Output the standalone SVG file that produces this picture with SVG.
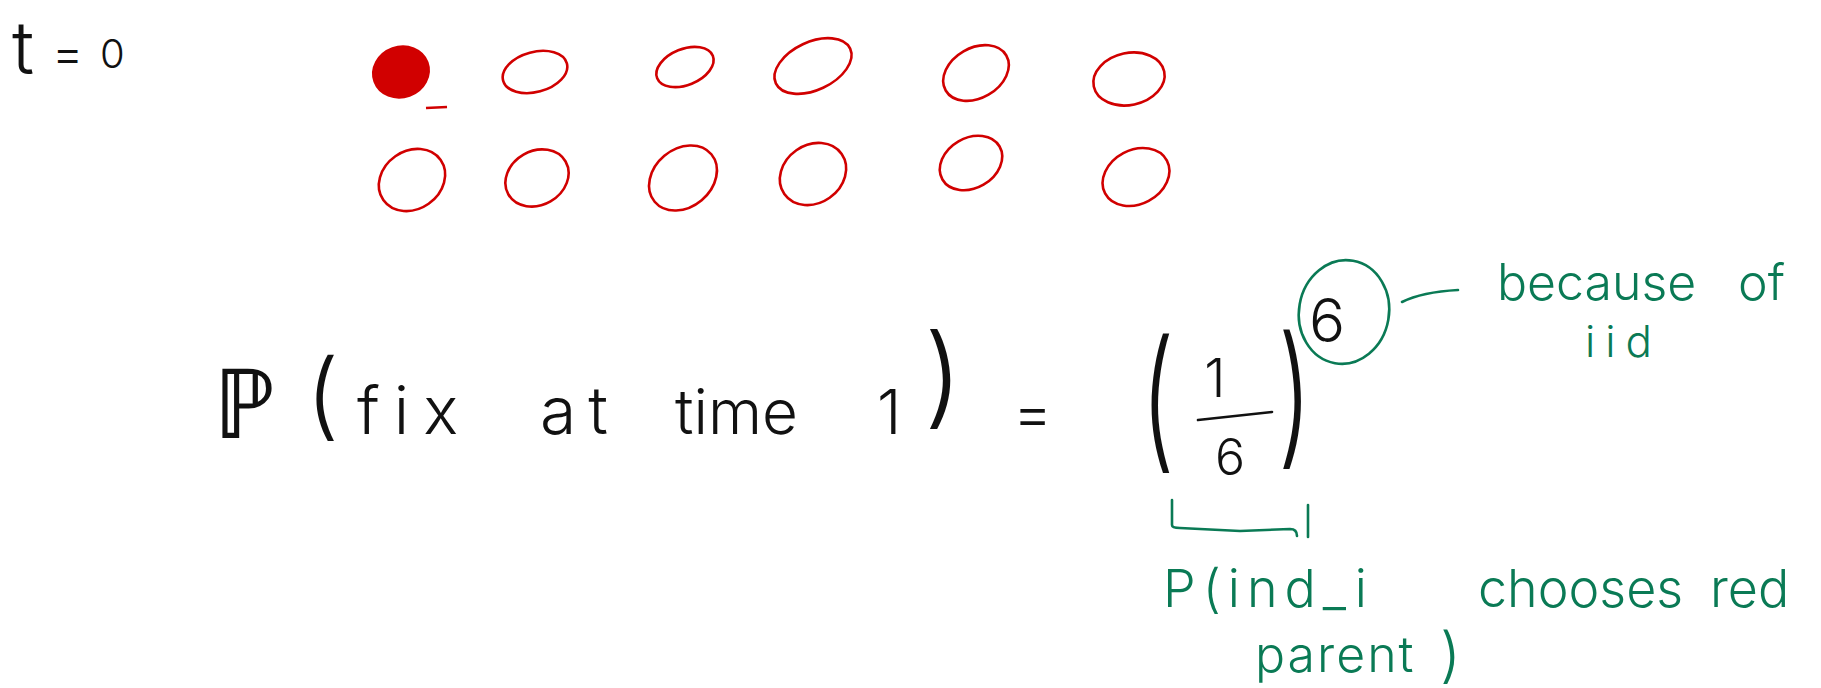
<svg xmlns="http://www.w3.org/2000/svg" width="1821" height="688" viewBox="0 0 1821 688">
<style>
  .ink { font-family: Inter, "Liberation Sans", sans-serif; font-weight: 300; fill: #111; }
  .green { font-family: Inter, "Liberation Sans", sans-serif; font-weight: 300; fill: #0a7a55; }
  .dot { fill: none; stroke: #d10000; stroke-width: 2.6; }
  .dotfill { fill: #d10000; stroke: #d10000; stroke-width: 2.6; }
  .gline { fill: none; stroke: #0a7a55; stroke-width: 2.6; stroke-linecap: round; stroke-linejoin: round; }
  .kline { fill: none; stroke: #111; stroke-width: 2.6; stroke-linecap: round; }
</style>
<rect width="1821" height="688" fill="#ffffff"/>

<g id="label-t0">
  <text class="ink" y="74"><tspan x="12" font-size="74">t</tspan><tspan x="52" font-size="48" dy="-4">=</tspan><tspan x="100" font-size="40" dy="-2">0</tspan></text>
</g>

<g id="node-r1c1"><ellipse class="dotfill" cx="401" cy="72" rx="28" ry="25" transform="rotate(-20 401 72)"/><line class="dot" x1="426" y1="108" x2="447" y2="107"/></g>
<g id="node-r1c2"><ellipse class="dot" cx="535" cy="72" rx="33" ry="20" transform="rotate(-15 535 72)"/></g>
<g id="node-r1c3"><ellipse class="dot" cx="685" cy="67" rx="30" ry="18" transform="rotate(-22 685 67)"/></g>
<g id="node-r1c4"><ellipse class="dot" cx="813" cy="66" rx="41" ry="24" transform="rotate(-25 813 66)"/></g>
<g id="node-r1c5"><ellipse class="dot" cx="976" cy="73" rx="35" ry="25" transform="rotate(-30 976 73)"/></g>
<g id="node-r1c6"><ellipse class="dot" cx="1129" cy="79" rx="36" ry="26" transform="rotate(-12 1129 79)"/></g>

<g id="node-r2c1"><ellipse class="dot" cx="412" cy="180" rx="35" ry="29" transform="rotate(-35 412 180)"/></g>
<g id="node-r2c2"><ellipse class="dot" cx="537" cy="178" rx="33" ry="27" transform="rotate(-30 537 178)"/></g>
<g id="node-r2c3"><ellipse class="dot" cx="683" cy="178" rx="37" ry="29" transform="rotate(-40 683 178)"/></g>
<g id="node-r2c4"><ellipse class="dot" cx="813" cy="174" rx="35" ry="29" transform="rotate(-35 813 174)"/></g>
<g id="node-r2c5"><ellipse class="dot" cx="971" cy="163" rx="33" ry="25" transform="rotate(-30 971 163)"/></g>
<g id="node-r2c6"><ellipse class="dot" cx="1136" cy="177" rx="35" ry="27" transform="rotate(-28 1136 177)"/></g>

<g id="formula">
  <text class="ink" x="213" y="438" font-size="97" font-family="'DejaVu Sans', sans-serif">ℙ</text>
  <text class="ink" x="306" y="428" font-size="95">(</text>
  <text class="ink" y="434" font-size="66"><tspan x="357" letter-spacing="14">fix</tspan><tspan x="540" letter-spacing="12">at</tspan><tspan x="675" font-size="62">time</tspan><tspan x="877" font-size="62">1</tspan></text>
  <text class="ink" x="924" y="414" font-size="110">)</text>
  <text class="ink" x="1013" y="434" font-size="60">=</text>
</g>

<g id="fraction">
  <text class="ink" font-size="96" transform="translate(1141 452) scale(1 1.6)">(</text>
  <text class="ink" font-size="54" x="1215" y="397" text-anchor="middle">1</text>
  <line class="kline" x1="1198" y1="420" x2="1272" y2="412"/>
  <text class="ink" font-size="50" x="1230" y="475" text-anchor="middle">6</text>
  <text class="ink" font-size="96" transform="translate(1278 448) scale(1 1.6)">)</text>
</g>

<g id="exponent">
  <ellipse class="gline" cx="1344" cy="312" rx="45" ry="52" transform="rotate(10 1344 312)"/>
  <text class="ink" font-size="60" x="1327" y="342" text-anchor="middle">6</text>
</g>

<g id="note-iid">
  <text class="green" font-size="50" y="300"><tspan x="1497">because</tspan><tspan x="1738">of</tspan></text>
  <text class="green" font-size="44" x="1585" y="357" letter-spacing="10">iid</text>
</g>

<g id="note-parent">
  <text class="green" font-size="52" y="607"><tspan x="1163" letter-spacing="7">P(ind_i</tspan><tspan x="1478">chooses</tspan><tspan x="1710">red</tspan></text>
  <text class="green" font-size="50" y="672"><tspan x="1255" letter-spacing="2">parent</tspan><tspan x="1440" font-size="60" dy="4">)</tspan></text>
</g>

<g id="connectors">
  <path class="gline" d="M1402 302 Q1422 292 1458 290"/>
  <path class="gline" d="M1172 500 L1172 525 Q1172 528 1180 528 L1240 531 L1290 529 Q1297 529 1297 536"/>
  <line class="gline" x1="1308" y1="505" x2="1308" y2="537"/>
</g>
</svg>
